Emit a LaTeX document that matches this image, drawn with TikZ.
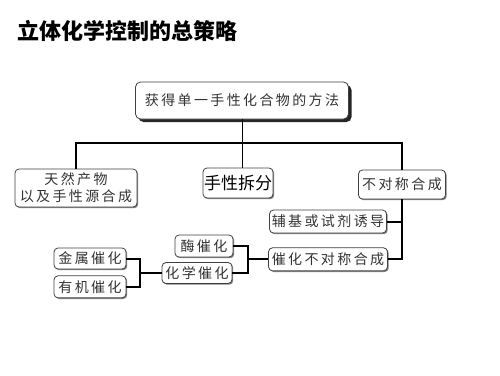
\documentclass[tikz,border=0pt]{standalone}
\usepackage{fontspec}
\newfontfamily\cjk{Noto Sans CJK SC}
\newfontfamily\cjksp[LetterSpace=17]{Noto Sans CJK SC}
\usepackage{tikz}
\usetikzlibrary{positioning,shadows}

\begin{document}
\begin{tikzpicture}[
  x=1pt, y=-1pt,
  box/.style={draw=black!75, rounded corners=4pt, line width=0.8pt, fill=white, inner sep=0pt, align=center, text=black!80, font=\fontsize{14}{17}\selectfont\cjksp, drop shadow={shadow xshift=1.2pt, shadow yshift=-1.2pt, fill=black!50, opacity=1}},
  rootbox/.style={draw=black!75, rounded corners=5pt, line width=0.8pt, fill=white, inner sep=0pt, text=black!80, font=\fontsize{14}{17}\selectfont\cjksp, drop shadow={shadow xshift=3pt, shadow yshift=-3pt, fill=black!85, opacity=1}},
  link/.style={line width=2pt, black},
  stem/.style={line width=1pt, black}
]
\useasboundingbox (0,0) rectangle (500,375);

\node[anchor=west, font=\fontsize{22}{26}\selectfont\cjk\bfseries] (title) at (14,31) {立体化学控制的总策略};

\node[rootbox, minimum width=213pt, minimum height=37pt] (root) at (242,100.5) {获得单一手性化合物的方法};

\node[box, minimum width=122pt, minimum height=38pt] (tr) at (76,188) {天然产物\\以及手性源合成};
\node[box, minimum width=70pt, minimum height=30pt, text=black, font=\fontsize{17}{19}\selectfont\cjk] (split) at (238,183) {手性拆分};
\node[box, minimum width=87pt, minimum height=29pt] (bdc) at (402,184.5) {不对称合成};

\node[box, minimum width=117pt, minimum height=23pt] (fj) at (328,221.5) {辅基或试剂诱导};
\node[box, minimum width=119pt, minimum height=23pt, below=14pt of fj] (cbdc) {催化不对称合成};

\node[box, minimum width=58pt, minimum height=22pt] (mei) at (204,246) {酶催化};
\node[box, minimum width=70pt, minimum height=21pt] (hx) at (197,273) {化学催化};

\node[box, minimum width=72pt, minimum height=21pt] (js) at (90,258.5) {金属催化};
\node[box, minimum width=72pt, minimum height=22pt, below=6pt of js] (yj) {有机催化};

\coordinate (b2) at ([xshift=-20pt]cbdc.west);
\coordinate (b1) at ([xshift=-22pt]hx.west);

% main tree
\draw[stem] (root.south) -- (root.south |- split.north);
\draw[link] (tr.north) -- ++(0,-26) -| (bdc.north);

% asymmetric branch
\draw[link] (bdc.south) |- (cbdc.east);
\draw[link] (fj.east) -- (fj.east -| bdc.south);
\draw[link] (cbdc.west) -- (b2);
\draw[link] (mei.east) -| (b2) |- (hx.east);

% chemical catalysis
\draw[link] (hx.west) -- (b1);
\draw[link] (js.east) -| (b1) |- (yj.east);

\end{tikzpicture}
\end{document}
